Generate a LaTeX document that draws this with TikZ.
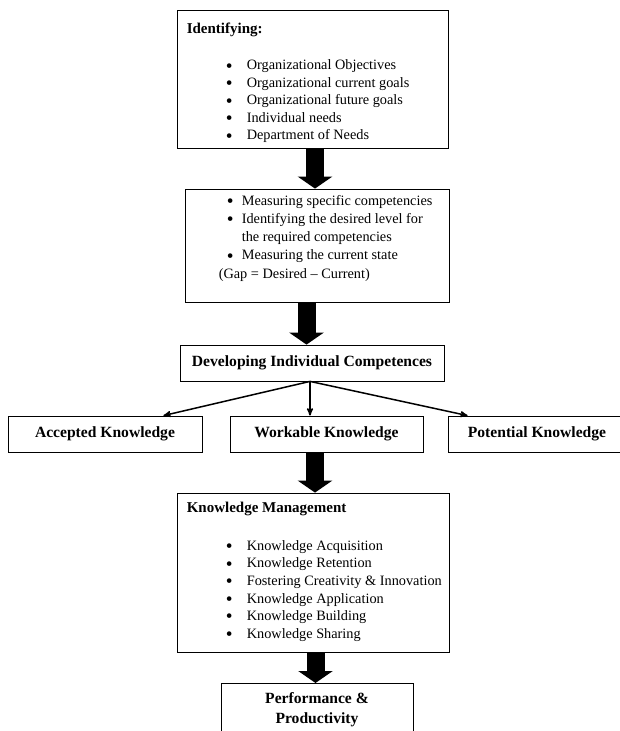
\documentclass[tikz,border=0pt]{standalone}
\usepackage{fontspec}
\usepackage{graphicx}
\setmainfont{Liberation Serif}
\usetikzlibrary{positioning,arrows,arrows.meta,calc}
\tikzset {
box/.style={shape=rectangle,draw,line width=0.8pt,inner sep=0pt},
heading/.style={box,font=\fontsize{15.6}{17.5}\selectfont\bfseries,minimum height=36pt},
list/.style={inner sep=0pt,align=left,font=\fontsize{14.3}{17.5}\selectfont},
bigarrow/.style={line width=18pt,-{Triangle[width=34pt,length=12pt]}},
branch/.style={line width=1.5pt,->}
}
\newcommand{\bigdot}{\raisebox{-0.15em}{\scalebox{1.35}{\textbullet}}}
\newcommand{\bul}{\hspace*{39pt}\makebox[21pt][l]{\bigdot}}
\newcommand{\boxtitle}[1]{{\fontsize{15}{17.5}\selectfont\bfseries #1}}

\begin{document}
\begin{tikzpicture}
[>=stealth',x=1pt,y=-1pt]
\useasboundingbox (0,0) rectangle (620,731);
\node[box,minimum width=271pt,minimum height=138pt] (identifying) at (312.5,79) {};
\node[list] (identifying list) [below right=13pt and 10pt of identifying.north west] {\boxtitle{Identifying:}\\[19pt]
\bul Organizational Objectives\\
\bul Organizational current goals\\
\bul Organizational future goals\\
\bul Individual needs\\
\bul Department of Needs};
\node[box,minimum width=264pt,minimum height=113pt] (measuring) at (317,245.5) {};
\node[list,font=\fontsize{14.3}{18.2}\selectfont] (measuring list) [below right=6.5pt and 34pt of measuring.north west] {\hspace*{8pt}\makebox[15pt][l]{\bigdot}Measuring specific competencies\\
\hspace*{8pt}\makebox[15pt][l]{\bigdot}Identifying the desired level for\\
\hspace*{23pt}the required competencies\\
\hspace*{8pt}\makebox[15pt][l]{\bigdot}Measuring the current state\\
(Gap = Desired -- Current)};
\node[heading,minimum width=264pt] (developing) at (312,363) {Developing Individual Competences};
\node[heading,minimum width=194pt] (accepted) at (105,434) {Accepted Knowledge};
\node[heading,minimum width=193pt] (workable) at (326.5,434) {Workable Knowledge};
\node[heading,minimum width=178pt] (potential) at (537,434) {Potential Knowledge};
\node[box,minimum width=272pt,minimum height=159pt] (km) at (313,572.5) {};
\node[list,font=\fontsize{14.3}{17.6}\selectfont] (km list) [below right=9pt and 10pt of km.north west] {\boxtitle{Knowledge Management}\\[20.5pt]
\bul Knowledge Acquisition\\
\bul Knowledge Retention\\
\bul Fostering Creativity \& Innovation\\
\bul Knowledge Application\\
\bul Knowledge Building\\
\bul Knowledge Sharing};
\node[box,anchor=north,minimum width=192pt,inner ysep=9pt,align=center,font=\fontsize{15.6}{20}\selectfont\bfseries] (performance) at (317,683) {Performance \&\\Productivity};

\draw[bigarrow] ($(identifying.south)+(2.5,0)$) -- ($(identifying.south |- measuring.north)+(2.5,0)$);
\draw[bigarrow] ($(developing.north |- measuring.south)+(-5.5,0)$) -- ($(developing.north)+(-5.5,0)$);
\draw[bigarrow] ($(km.north |- workable.south)+(2,0)$) -- ($(km.north)+(2,0)$);
\draw[bigarrow] ($(km.south)+(2.5,0)$) -- ($(km.south |- performance.north)+(2.5,0)$);

\draw[branch] ($(developing.south)+(-2,0)$) -- ($(accepted.north)!0.6!(accepted.north east)$);
\draw[branch] ($(developing.south)+(-2,0)$) -- ($(developing.south |- workable.north)+(-2,0)$);
\draw[branch] ($(developing.south)+(-2,0)$) -- ($(potential.north west)+(20,0)$);
\end{tikzpicture}
\end{document}
